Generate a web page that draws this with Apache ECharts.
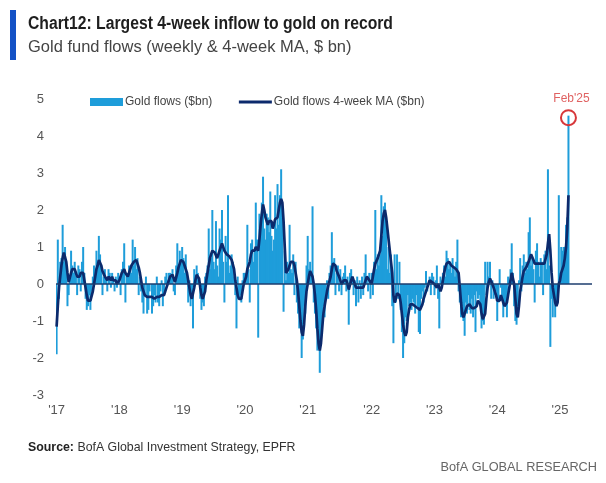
<!DOCTYPE html>
<html>
<head>
<meta charset="utf-8">
<script src="https://cdn.jsdelivr.net/npm/echarts@6/dist/echarts.min.js"></script>
<style>
html,body{margin:0;padding:0;background:#fff;}
#c{width:606px;height:483px;}
</style>
</head>
<body>
<div id="c"></div>
<script>
// Weekly gold fund flows ($bn), one array per calendar block of 52 weeks
var flows2017 = [-1.9,1.2,-0.4,0.6,0.7,1.6,0.6,1.0,0.4,-0.6,-0.3,0.2,0.9,0.5,0.3,0.6,0.2,-0.3,0.5,0.4,-0.2,0.6,1.0,0.3,-0.4,-0.7,-0.6,-0.3,-0.7,-0.2,0.2,0.5,0.3,0.9,0.6,1.3,0.8,0.5,-0.3,0.2,0.4,0.1,-0.2,0.4,0.3,-0.1,0.3,0.1,-0.2,0.2,-0.1,0.3];
var flows2018 = [0.2,-0.3,0.4,0.6,1.1,-0.5,0.3,0.2,0.5,0.4,0.3,1.2,0.5,1.0,0.4,0.7,-0.3,0.2,-0.2,-0.5,-0.8,-0.3,0.2,-0.8,-0.7,-0.2,0.0,-0.8,-0.6,-0.3,-0.5,0.2,-0.5,-0.6,-0.2,0.1,-0.6,-0.3,0.2,0.3,0.1,0.3,0.3,0.2,0.4,-0.2,-0.3,0.5,1.1,0.4,0.9,0.6];
var flows2019 = [1.0,0.7,0.3,0.8,0.2,-0.5,0.1,-0.6,-0.3,-1.2,0.4,0.2,0.5,0.3,0.1,-0.4,-0.7,-0.5,-0.6,0.2,0.3,0.5,1.5,0.4,0.7,2.0,0.6,0.4,1.7,0.5,0.2,1.5,1.2,2.0,0.6,-0.5,1.3,0.6,2.4,0.3,0.5,0.8,0.6,0.2,-0.3,-1.2,0.2,-0.4,-0.3,-0.5,0.1,0.3];
var flows2020 = [0.3,0.2,1.6,0.4,-0.5,1.1,1.2,0.6,0.9,2.2,1.2,-1.45,1.9,1.6,2.2,2.9,1.5,1.2,1.9,1.8,1.4,2.5,1.3,0.9,1.2,2.4,1.5,2.7,1.6,2.4,3.1,2.0,-0.75,0.9,0.1,0.6,0.3,1.6,0.4,0.3,0.8,-0.3,0.6,-0.5,-0.8,-1.2,-1.0,-2.0,-1.5,-0.6,-0.8,0.5];
var flows2021 = [1.3,0.4,0.6,0.3,2.1,-0.5,-0.8,-1.2,-1.8,-1.3,-2.4,-1.5,-0.8,-0.6,-0.9,-0.3,0.1,-0.4,0.3,0.5,1.4,0.6,0.7,-0.3,0.3,0.5,-0.2,0.4,-0.3,0.2,0.3,0.5,-0.2,0.2,-1.1,0.3,0.4,0.2,-0.3,0.1,-0.6,0.2,-0.5,0.1,-0.4,0.2,-0.3,0.3,0.8,0.2,-0.2,0.3];
var flows2022 = [-0.4,0.3,-0.3,0.6,2.0,0.4,0.8,0.5,0.8,2.4,1.3,2.1,2.2,1.6,0.4,1.0,0.3,0.8,-0.6,-1.6,0.8,-0.5,0.8,-0.4,0.6,-0.7,-1.3,-2.0,-1.6,-0.9,-1.0,-0.3,-0.6,-0.5,-0.7,-0.4,-0.5,-0.8,-0.3,-0.6,-1.3,-1.35,-0.4,-0.2,-0.5,-0.1,0.35,-0.2,0.0,0.2,-0.3,0.3];
var flows2023 = [0.2,-0.3,0.1,0.5,-0.4,-1.2,0.2,0.1,0.3,0.5,0.2,0.9,0.7,0.4,0.6,0.3,0.7,0.4,0.2,0.6,1.2,-0.2,-0.5,-0.9,-0.6,-1.0,-1.4,-0.5,-0.8,-0.3,-0.7,-0.8,-0.4,-0.9,-0.3,-1.3,-0.2,-0.4,-0.3,-0.6,-1.2,-1.0,-1.1,0.6,-0.3,0.6,0.2,0.6,-0.4,0.1,-0.4,-0.3];
var flows2024 = [-0.2,-1.0,-0.5,0.4,-0.1,-0.4,-0.9,-0.6,-0.5,-0.9,0.2,0.1,0.4,1.1,0.3,-0.6,-1.0,-1.1,-0.8,0.1,0.7,-0.2,0.5,0.8,0.3,0.6,0.4,1.4,1.8,0.5,0.7,0.4,-0.5,0.9,1.1,0.6,0.2,0.7,0.6,-0.3,0.8,0.9,0.4,3.1,0.5,-1.7,-0.4,-0.9,-0.3,-0.9,-0.6,-0.3];
var flows2025 = [2.4,0.3,1.0,0.9,1.0,1.0,1.6,1.8,4.55];

// 4-week moving average ($bn)
var ma2017 = [-1.15,-0.6,-0.1,0.2,0.5,0.7,0.85,0.8,0.6,0.3,0.05,0.1,0.3,0.4,0.35,0.4,0.3,0.2,0.25,0.2,0.3,0.35,0.3,0.1,-0.1,-0.3,-0.45,-0.5,-0.45,-0.45,-0.2,0.0,0.2,0.4,0.5,0.65,0.65,0.5,0.35,0.3,0.2,0.15,0.1,0.2,0.15,0.1,0.2,0.1,0.05,0.1,0.0,0.05];
var ma2018 = [0.1,0.2,0.3,0.35,0.4,0.3,0.25,0.2,0.3,0.4,0.5,0.55,0.6,0.65,0.65,0.6,0.45,0.3,0.1,-0.1,-0.2,-0.3,-0.35,-0.35,-0.4,-0.35,-0.3,-0.35,-0.4,-0.4,-0.35,-0.35,-0.3,-0.35,-0.35,-0.3,-0.35,-0.3,-0.25,-0.1,0.0,0.1,0.2,0.25,0.25,0.2,0.05,0.1,0.3,0.45,0.55,0.65];
var ma2019 = [0.65,0.6,0.5,0.45,0.3,0.1,-0.1,-0.3,-0.4,-0.35,-0.1,0.1,0.25,0.3,0.15,-0.1,-0.3,-0.4,-0.35,-0.2,0.1,0.3,0.5,0.7,0.8,0.9,0.9,0.85,0.8,0.7,0.75,0.9,1.0,1.1,1.05,0.9,0.85,0.8,0.85,0.75,0.7,0.65,0.6,0.4,0.1,-0.1,-0.3,-0.4,-0.45,-0.4,-0.2,0.0];
var ma2020 = [0.0,0.2,0.4,0.5,0.6,0.8,0.9,0.85,0.9,1.0,1.0,0.9,1.2,1.6,1.9,2.15,2.0,1.8,1.7,1.6,1.7,1.75,1.7,1.5,1.6,1.75,1.7,1.8,2.0,2.2,2.3,2.2,1.7,1.0,0.3,0.3,0.4,0.5,0.6,0.65,0.6,0.5,0.3,0.1,-0.2,-0.6,-1.0,-1.3,-1.4,-1.1,-0.6,-0.2];
var ma2021 = [0.0,0.2,0.35,0.35,0.2,0.0,-0.3,-0.7,-1.2,-1.6,-1.8,-1.6,-1.2,-0.8,-0.6,-0.4,-0.2,-0.05,0.0,0.2,0.4,0.55,0.6,0.5,0.35,0.3,0.2,0.1,0.0,0.05,0.1,0.15,0.1,0.0,-0.15,-0.1,0.1,0.2,0.15,0.0,-0.1,-0.15,-0.1,-0.15,-0.1,-0.05,-0.1,0.0,0.1,0.2,0.2,0.1];
var ma2022 = [0.1,0.0,0.2,0.4,0.55,0.6,0.7,0.8,0.9,1.3,1.7,1.9,2.0,1.8,1.5,1.2,0.9,0.6,0.3,-0.3,-0.5,-0.4,-0.25,-0.3,-0.3,-0.5,-0.8,-1.1,-1.3,-1.4,-1.3,-0.9,-0.7,-0.55,-0.5,-0.55,-0.55,-0.6,-0.6,-0.65,-0.7,-0.7,-0.65,-0.55,-0.4,-0.3,-0.2,-0.1,0.0,0.1,0.1,0.05];
var ma2023 = [0.1,0.0,-0.05,-0.1,0.0,-0.1,-0.2,-0.1,0.1,0.3,0.45,0.55,0.6,0.6,0.55,0.5,0.5,0.45,0.45,0.4,0.45,0.3,-0.1,-0.5,-0.8,-0.9,-0.85,-0.7,-0.6,-0.6,-0.55,-0.6,-0.65,-0.6,-0.65,-0.7,-0.6,-0.45,-0.4,-0.55,-0.8,-0.95,-1.0,-0.8,-0.4,-0.1,0.05,0.15,0.1,0.0,-0.1,-0.2];
var ma2024 = [-0.3,-0.45,-0.5,-0.45,-0.3,-0.35,-0.5,-0.6,-0.6,-0.5,-0.3,-0.1,0.1,0.3,0.3,0.0,-0.4,-0.8,-0.9,-0.6,-0.2,0.0,0.2,0.35,0.4,0.45,0.5,0.6,0.7,0.8,0.8,0.65,0.55,0.6,0.55,0.5,0.55,0.6,0.55,0.5,0.55,0.6,0.8,1.1,1.35,0.9,0.3,-0.1,-0.3,-0.5,-0.6,-0.5];
var ma2025 = [0.0,0.1,0.3,0.35,0.5,0.7,1.0,1.5,2.4];

var yTicks = [-3,-2,-1,0,1,2,3,4,5];

var flows = [].concat(flows2017,flows2018,flows2019,flows2020,flows2021,flows2022,flows2023,flows2024,flows2025);
var ma = [].concat(ma2017,ma2018,ma2019,ma2020,ma2021,ma2022,ma2023,ma2024,ma2025);

// weekly dates from first week of 2017, with empty weeks after the last observation
var N = 444;
var dates = [];
var start = Date.UTC(2017,0,6);
function pad(n){return (n<10?'0':'')+n;}
for (var i=0;i<N;i++){
  var d = new Date(start + i*7*86400000);
  dates.push(d.getUTCFullYear()+'-'+pad(d.getUTCMonth()+1)+'-'+pad(d.getUTCDate()));
}
var lastIdx = flows.length - 1;
while (flows.length < N) flows.push(null);
while (ma.length < N) ma.push(null);

var SANS = "'Liberation Sans',Arial,sans-serif";

var chart = echarts.init(document.getElementById('c'), null, {renderer:'canvas'});
chart.setOption({
  animation:false,
  backgroundColor:'#ffffff',
  graphic:[
    {type:'rect', shape:{x:10, y:10, width:6, height:50}, style:{fill:'#1452c6'}},
    {type:'text', x:28, y:24, scaleX:0.873,
     style:{text:'Chart12: Largest 4-week inflow to gold on record', font:"bold 18px "+SANS,
       fill:'#1e1e1e', textVerticalAlign:'middle'}},
    {type:'text', x:28, y:47, scaleX:0.97,
     style:{text:'Gold fund flows (weekly & 4-week MA, $ bn)', font:"17px "+SANS,
       fill:'#444', textVerticalAlign:'middle'}},
    {type:'text', x:28, y:447, scaleX:0.95,
     style:{text:'{b|Source:} BofA Global Investment Strategy, EPFR', font:"13px "+SANS,
       fill:'#333', textVerticalAlign:'middle',
       rich:{b:{font:"bold 13px "+SANS, fill:'#222'}}}},
    {type:'text', x:597, y:467, scaleX:0.98,
     style:{text:'BofA GLOBAL RESEARCH', font:"13px "+SANS, fill:'#666',
       textAlign:'right', textVerticalAlign:'middle'}}
  ],
  legend:{
    left:90, top:96, padding:0, itemWidth:33, itemHeight:8, itemGap:25,
    textStyle:{fontFamily:SANS, fontSize:12, color:'#444', padding:[0,0,0,-3]},
    data:[
      {name:'Gold flows ($bn)', icon:'rect'},
      {name:'Gold flows 4-week MA ($bn)',
       itemStyle:{color:'rgba(0,0,0,0)', borderColor:'rgba(0,0,0,0)', borderWidth:0, opacity:0},
       lineStyle:{color:'#0c2a6c', width:3}}
    ]
  },
  grid:{left:56, right:14, top:99, bottom:88, containLabel:false},
  xAxis:{
    type:'category', data:dates, boundaryGap:true,
    axisLine:{show:false}, axisTick:{show:false}, splitLine:{show:false},
    axisLabel:{
      margin:9, color:'#555', fontFamily:SANS, fontSize:13,
      interval:function(idx, val){
        if (idx===0) return true;
        return dates[idx].slice(0,4) !== dates[idx-1].slice(0,4);
      },
      formatter:function(val){ return "'" + val.slice(2,4); }
    }
  },
  yAxis:{
    type:'value', min:yTicks[0], max:yTicks[yTicks.length-1], interval:1,
    axisLine:{show:false}, axisTick:{show:false}, splitLine:{show:false},
    axisLabel:{margin:12, color:'#555', fontFamily:SANS, fontSize:13}
  },
  series:[
    {
      name:'Gold flows ($bn)', type:'bar', data:flows,
      barWidth:2, barGap:'-100%', itemStyle:{color:'#1e9dda'},
      markLine:{
        silent:true, symbol:['none','none'], label:{show:false},
        lineStyle:{color:'#1d3c6e', width:1.5, type:'solid'},
        data:[{yAxis:0}]
      },
      markPoint:{
        silent:true,
        data:[{coord:[dates[lastIdx], flows[lastIdx]], symbol:'circle', symbolSize:15,
          symbolOffset:[0,2],
          itemStyle:{color:'rgba(0,0,0,0)', borderColor:'#d7373a', borderWidth:2},
          label:{show:true, position:'top', distance:4, offset:[3,0], formatter:"Feb'25",
            color:'#e06262', fontFamily:SANS, fontSize:12}}]
      },
      z:2
    },
    {
      name:'Gold flows 4-week MA ($bn)', type:'line', data:ma,
      symbol:'none', showSymbol:false, connectNulls:false,
      lineStyle:{color:'#0c2a6c', width:2.7},
      itemStyle:{color:'#0c2a6c'},
      z:3
    }
  ]
});
</script>
</body>
</html>
